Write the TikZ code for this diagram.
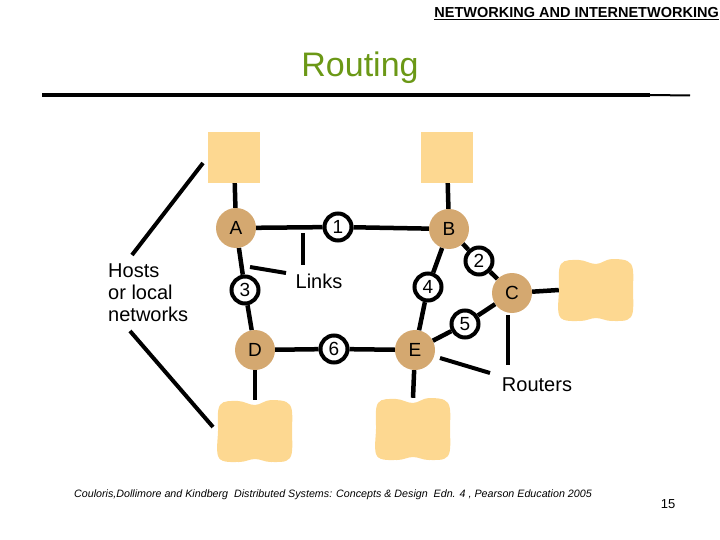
\documentclass[tikz,border=0pt]{standalone}
\usepackage{fontspec}
\setmainfont{Liberation Sans}
\definecolor{routerc}{RGB}{212,168,112}
\definecolor{hostc}{RGB}{253,216,145}
\definecolor{titlec}{RGB}{107,152,22}
\begin{document}
\begin{tikzpicture}[x=1pt,y=-1pt,
  router/.style={circle,fill=routerc,minimum size=40pt,inner sep=0pt,font=\fontsize{19}{22}\selectfont},
  linknode/.style={circle,draw=black,line width=4pt,fill=white,minimum size=27pt,inner sep=0pt,font=\fontsize{19}{22}\selectfont},
  conn/.style={line width=4.5pt},
  pointer/.style={line width=4pt},
  lbl/.style={font=\fontsize{20}{22}\selectfont,inner sep=0pt},
  hostsq/.style={fill=hostc,minimum width=52pt,minimum height=51pt,inner sep=0pt},
  hostbox/.style={minimum width=74pt,minimum height=62pt,inner sep=0pt},
  blob/.pic={\fill[hostc] plot[smooth cycle,tension=0.6] coordinates {(-35,-26) (-17,-30) (0,-26) (16,-31) (35,-26) (37,0) (35,27) (16,31) (0,28) (-16,31) (-36,27) (-37,0)};}
  ]
\useasboundingbox (0,0) rectangle (720,540);
% header
\node[anchor=south east,inner sep=0pt,font=\fontsize{14.5}{16}\selectfont] (hdr) at (719,20) {\underline{\textbf{NETWORKING AND INTERNETWORKING}}};
\node[font=\fontsize{34}{38}\selectfont,text=titlec,inner sep=0pt] (title) at (360,68) {Routing};
\coordinate (r1) at (42,95);
\coordinate (r2) at (650,95);
\coordinate (r3) at (690,95.5);
\draw[line width=4pt] (r1) -- (r2);
\draw[line width=2pt] (r2) -- (r3);
% hosts
\node[hostsq] (hA) at (234,157.5) {};
\node[hostsq] (hB) at (447,157.5) {};
\node[hostbox] (hC) at (596,290) {};
\node[hostbox] (hD) at (255,431) {};
\node[hostbox] (hE) at (413,429) {};
\pic at (hC) {blob};
\pic at (hD) {blob};
\pic at (hE) {blob};
% routers
\node[router] (A) at (236,228) {A};
\node[router] (B) at (449,229) {B};
\node[router] (C) at (512,293) {C};
\node[router] (D) at (255,350) {D};
\node[router] (E) at (415,350) {E};
% links
\node[linknode] (l1) at (338,227) {1};
\node[linknode] (l2) at (479,261) {2};
\node[linknode] (l3) at (245,290) {3};
\node[linknode] (l4) at (428,287) {4};
\node[linknode] (l5) at (465,324) {5};
\node[linknode] (l6) at (334,349) {6};
% connectors
\draw[conn] (A) -- (l1) -- (B);
\draw[conn] (A) -- (l3) -- (D);
\draw[conn] (B) -- (l4) -- (E);
\draw[conn] (B) -- (l2) -- (C);
\draw[conn] (E) -- (l5) -- (C);
\draw[conn] (D) -- (l6) -- (E);
\draw[conn] (hA) -- (A);
\draw[conn] (hB) -- (B);
\draw[conn] (C) -- (hC.west);
\draw[conn] (D) -- (hD.north);
\draw[conn] (E) -- (hE.north);
% labels
\node[lbl,align=left,anchor=west] (hosts) at (108,293) {Hosts\\or local\\networks};
\node[lbl] (links) at (319,281) {Links};
\node[lbl] (routers) at (537,385) {Routers};
\coordinate (p1a) at (132,255);
\coordinate (p1b) at (203,163);
\coordinate (p2a) at (130,331);
\coordinate (p2b) at (213,427);
\coordinate (p3a) at (303,233);
\coordinate (p3b) at (303,265);
\coordinate (p4a) at (250,267);
\coordinate (p4b) at (286,273);
\coordinate (p5a) at (508,315);
\coordinate (p5b) at (508,365);
\coordinate (p6a) at (440,358);
\coordinate (p6b) at (490,373);
\draw[pointer] (p1a) -- (p1b);
\draw[pointer] (p2a) -- (p2b);
\draw[pointer] (p3a) -- (p3b);
\draw[pointer] (p4a) -- (p4b);
\draw[pointer] (p5a) -- (p5b);
\draw[pointer] (p6a) -- (p6b);
% footer
\node[font=\fontsize{10.7}{12}\selectfont\itshape,inner sep=0pt] (foot) at (333,495) {Couloris,Dollimore and Kindberg\ \ Distributed Systems: Concepts \& Design\ \ Edn. 4 , Pearson Education 2005};
\node[font=\fontsize{13}{15}\selectfont,inner sep=0pt] (page) at (668,504) {15};
\end{tikzpicture}
\end{document}
